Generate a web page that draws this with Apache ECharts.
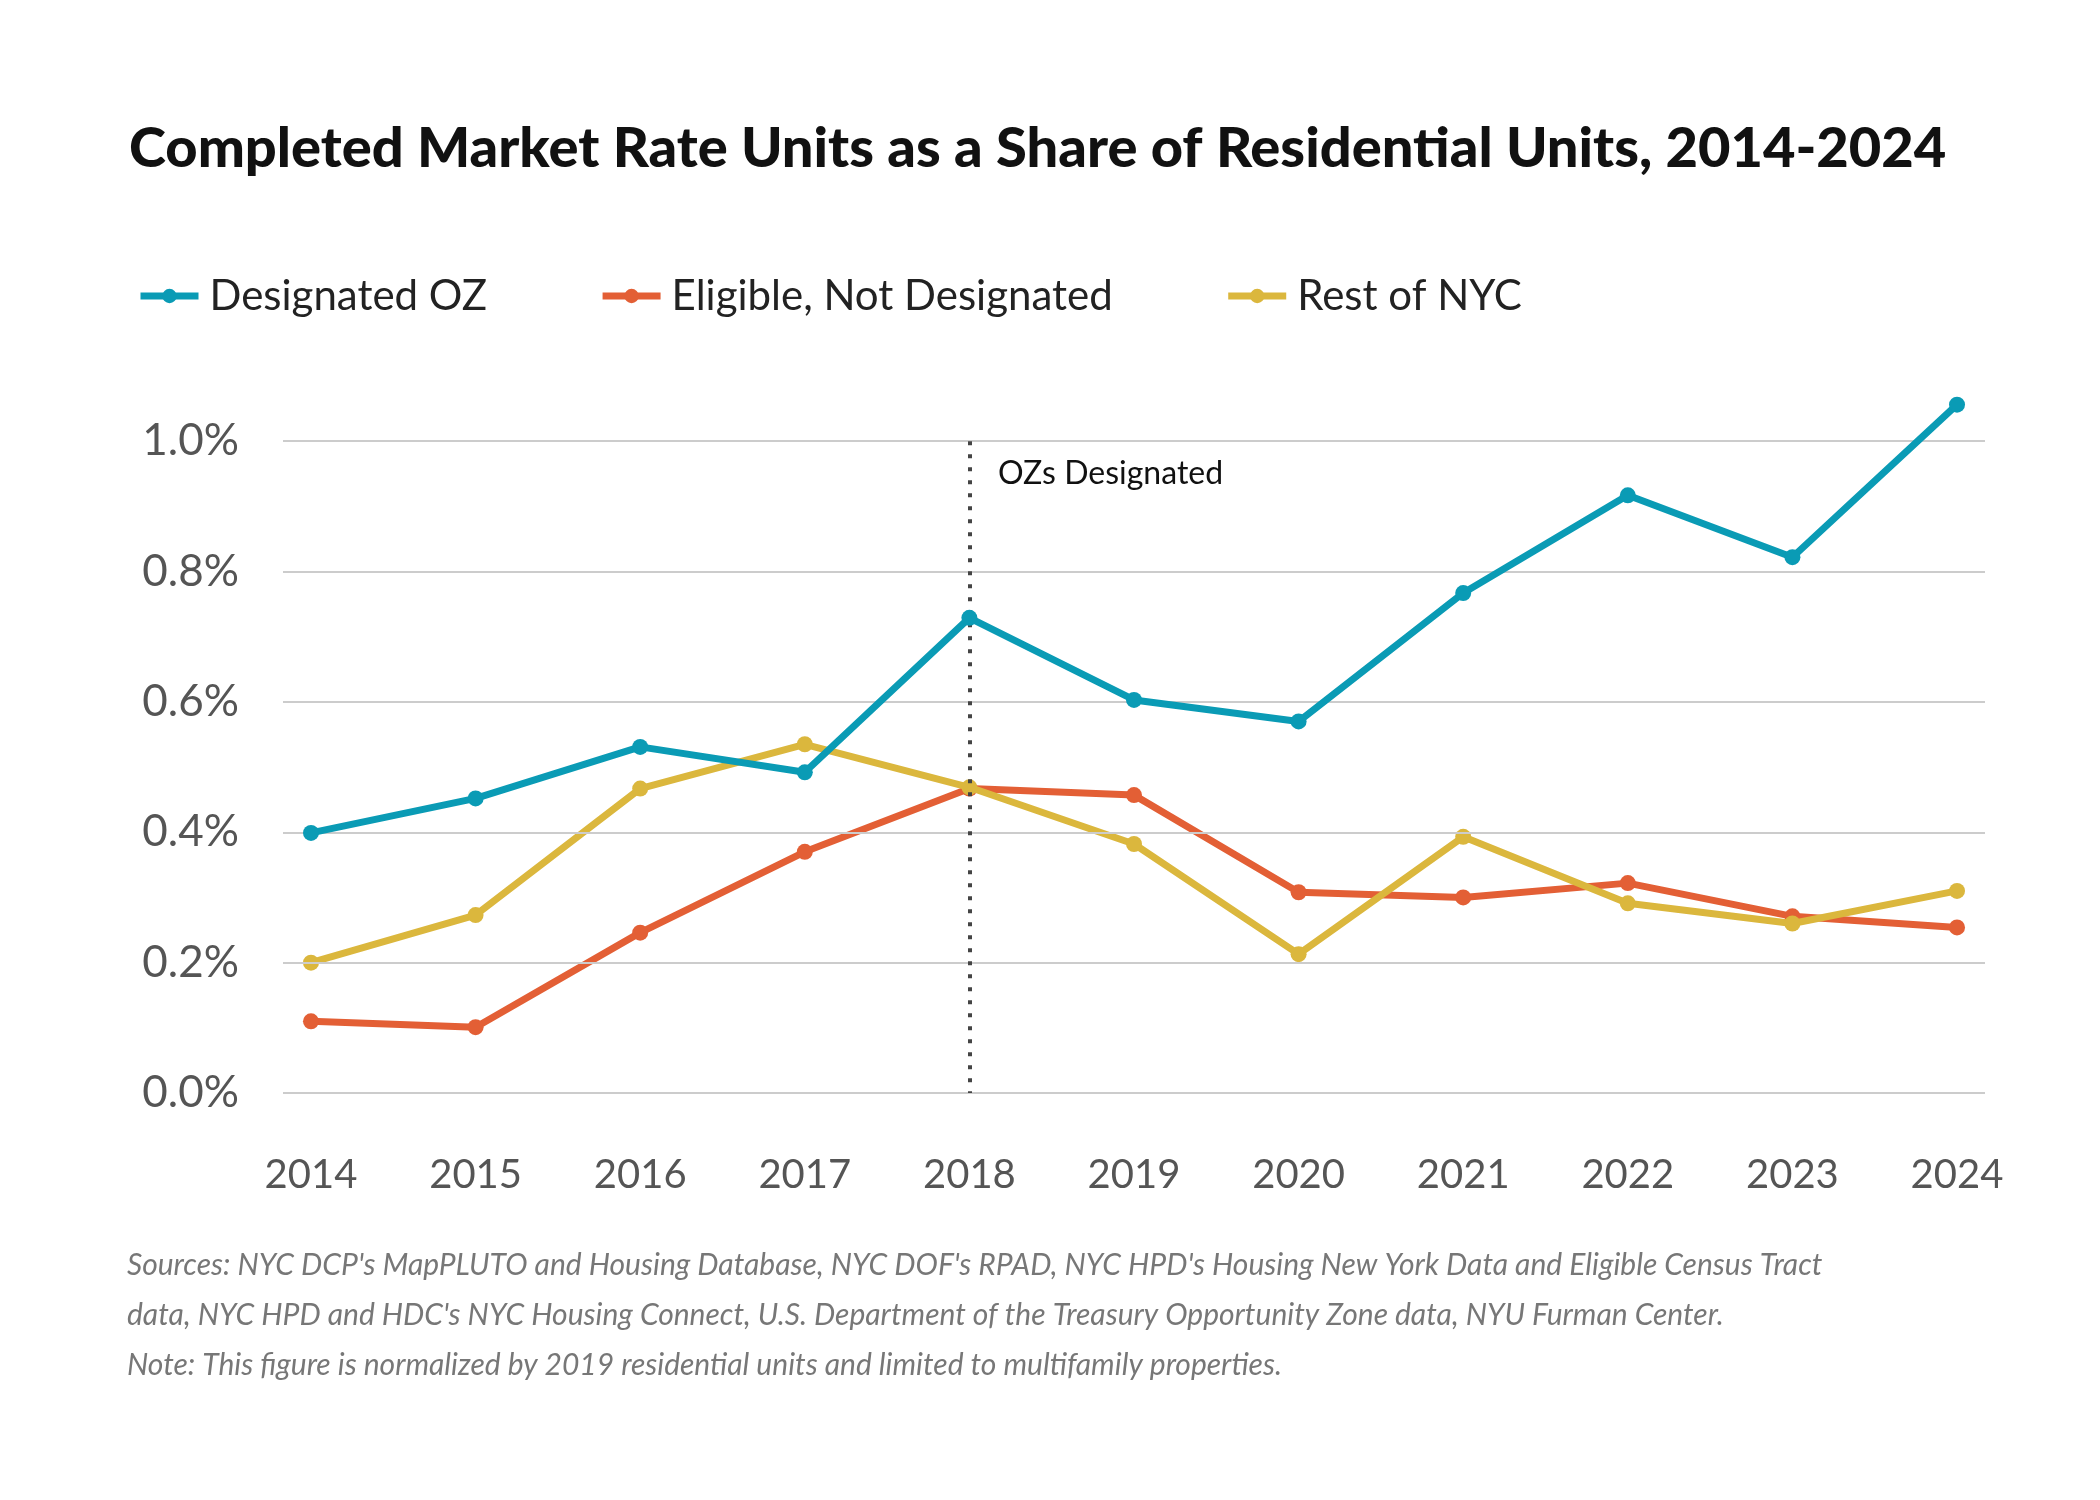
<!DOCTYPE html>
<html>
<head>
<meta charset="UTF-8">
<script src="https://cdn.jsdelivr.net/npm/echarts@6/dist/echarts.min.js"></script>
<style>body{margin:0;background:#fff}</style>
</head>
<body>
<div id="chart" style="width:2100px;height:1500px;"></div>
<script>
var years = [2014, 2015, 2016, 2017, 2018, 2019, 2020, 2021, 2022, 2023, 2024];
var designatedOZ = [0.399, 0.452, 0.531, 0.492, 0.729, 0.603, 0.570, 0.767, 0.917, 0.822, 1.056];
var eligibleNot = [0.110, 0.101, 0.246, 0.370, 0.467, 0.457, 0.308, 0.300, 0.322, 0.271, 0.254];
var restNYC = [0.200, 0.273, 0.467, 0.535, 0.469, 0.382, 0.213, 0.393, 0.291, 0.260, 0.310];
var yTicks = [0, 0.2, 0.4, 0.6, 0.8, 1.0];

function pairs(vals){ return years.map(function(y,i){ return [y, vals[i]]; }); }

function line(name, vals, color, z){
    return {
        name: name, type: 'line', data: pairs(vals), z: z,
        symbol: 'circle', symbolSize: 16,
        lineStyle: {width: 7, color: color},
        itemStyle: {color: color}
    };
}

var chart = echarts.init(document.getElementById('chart'));
var ozSeries = line('Designated OZ', designatedOZ, '#0a9bb5', 5);
ozSeries.markLine = {
    silent: true, symbol: 'none', label: {show: false},
    lineStyle: {type: [4, 9], width: 4, color: '#444'},
    data: [[{coord: [2018, 1.0]}, {coord: [2018, 0]}]]
};
// horizontal grid lines at the labelled ticks
var gridSeries = {
    type: 'line', data: [], silent: true, z: 1,
    markLine: {
        silent: true, symbol: 'none', label: {show: false},
        lineStyle: {type: 'solid', width: 2, color: '#ccc'},
        data: yTicks.map(function(v){ return {yAxis: v}; })
    }
};
chart.setOption({
    backgroundColor: '#fff',
    title: {
        text: 'Completed Market Rate Units as a Share of Residential Units, 2014-2024',
        left: 124, top: 116,
        textStyle: {fontFamily: 'Lato', fontWeight: 900, fontSize: 56, color: '#111'}
    },
    legend: {
        data: ['Designated OZ', 'Eligible, Not Designated', 'Rest of NYC'],
        left: 132, top: 270, itemWidth: 58, itemHeight: 18, itemGap: 112,
        itemStyle: {},
        lineStyle: {width: 7},
        textStyle: {fontFamily: 'Lato', fontSize: 42, color: '#222', padding: [0, 0, 0, 6]}
    },
    grid: {left: 283, right: 115, top: 376, bottom: 407},
    xAxis: {
        type: 'value', min: 2013.83, max: 2024.17,
        axisLine: {show: false}, axisTick: {show: false}, splitLine: {show: false},
        axisLabel: {customValues: years, margin: 62, fontFamily: 'Lato', fontSize: 40, color: '#555',
            formatter: function(v){ return String(v); }}
    },
    yAxis: {
        type: 'value', min: 0, max: 1.1,
        axisLine: {show: false}, axisTick: {show: false}, splitLine: {show: false},
        axisLabel: {customValues: yTicks, margin: 44, fontFamily: 'Lato', fontSize: 44, color: '#555',
            formatter: function(v){ return v.toFixed(1) + '%'; }}
    },
    graphic: [
        {type: 'text', left: 998, top: 458, style: {text: 'OZs Designated', font: '32px Lato', fill: '#111'}},
        {type: 'text', left: 127, top: 1240, style: {
            text: "Sources: NYC DCP's MapPLUTO and Housing Database, NYC DOF's RPAD, NYC HPD's Housing New York Data and Eligible Census Tract\ndata, NYC HPD and HDC's NYC Housing Connect, U.S. Department of the Treasury Opportunity Zone data, NYU Furman Center.\nNote: This figure is normalized by 2019 residential units and limited to multifamily properties.",
            font: 'italic 30px Lato', fill: '#777', lineHeight: 50}}
    ],
    series: [
        gridSeries,
        ozSeries,
        line('Eligible, Not Designated', eligibleNot, '#e35f35', 3),
        line('Rest of NYC', restNYC, '#dbb73d', 4)
    ]
});
</script>
</body>
</html>
